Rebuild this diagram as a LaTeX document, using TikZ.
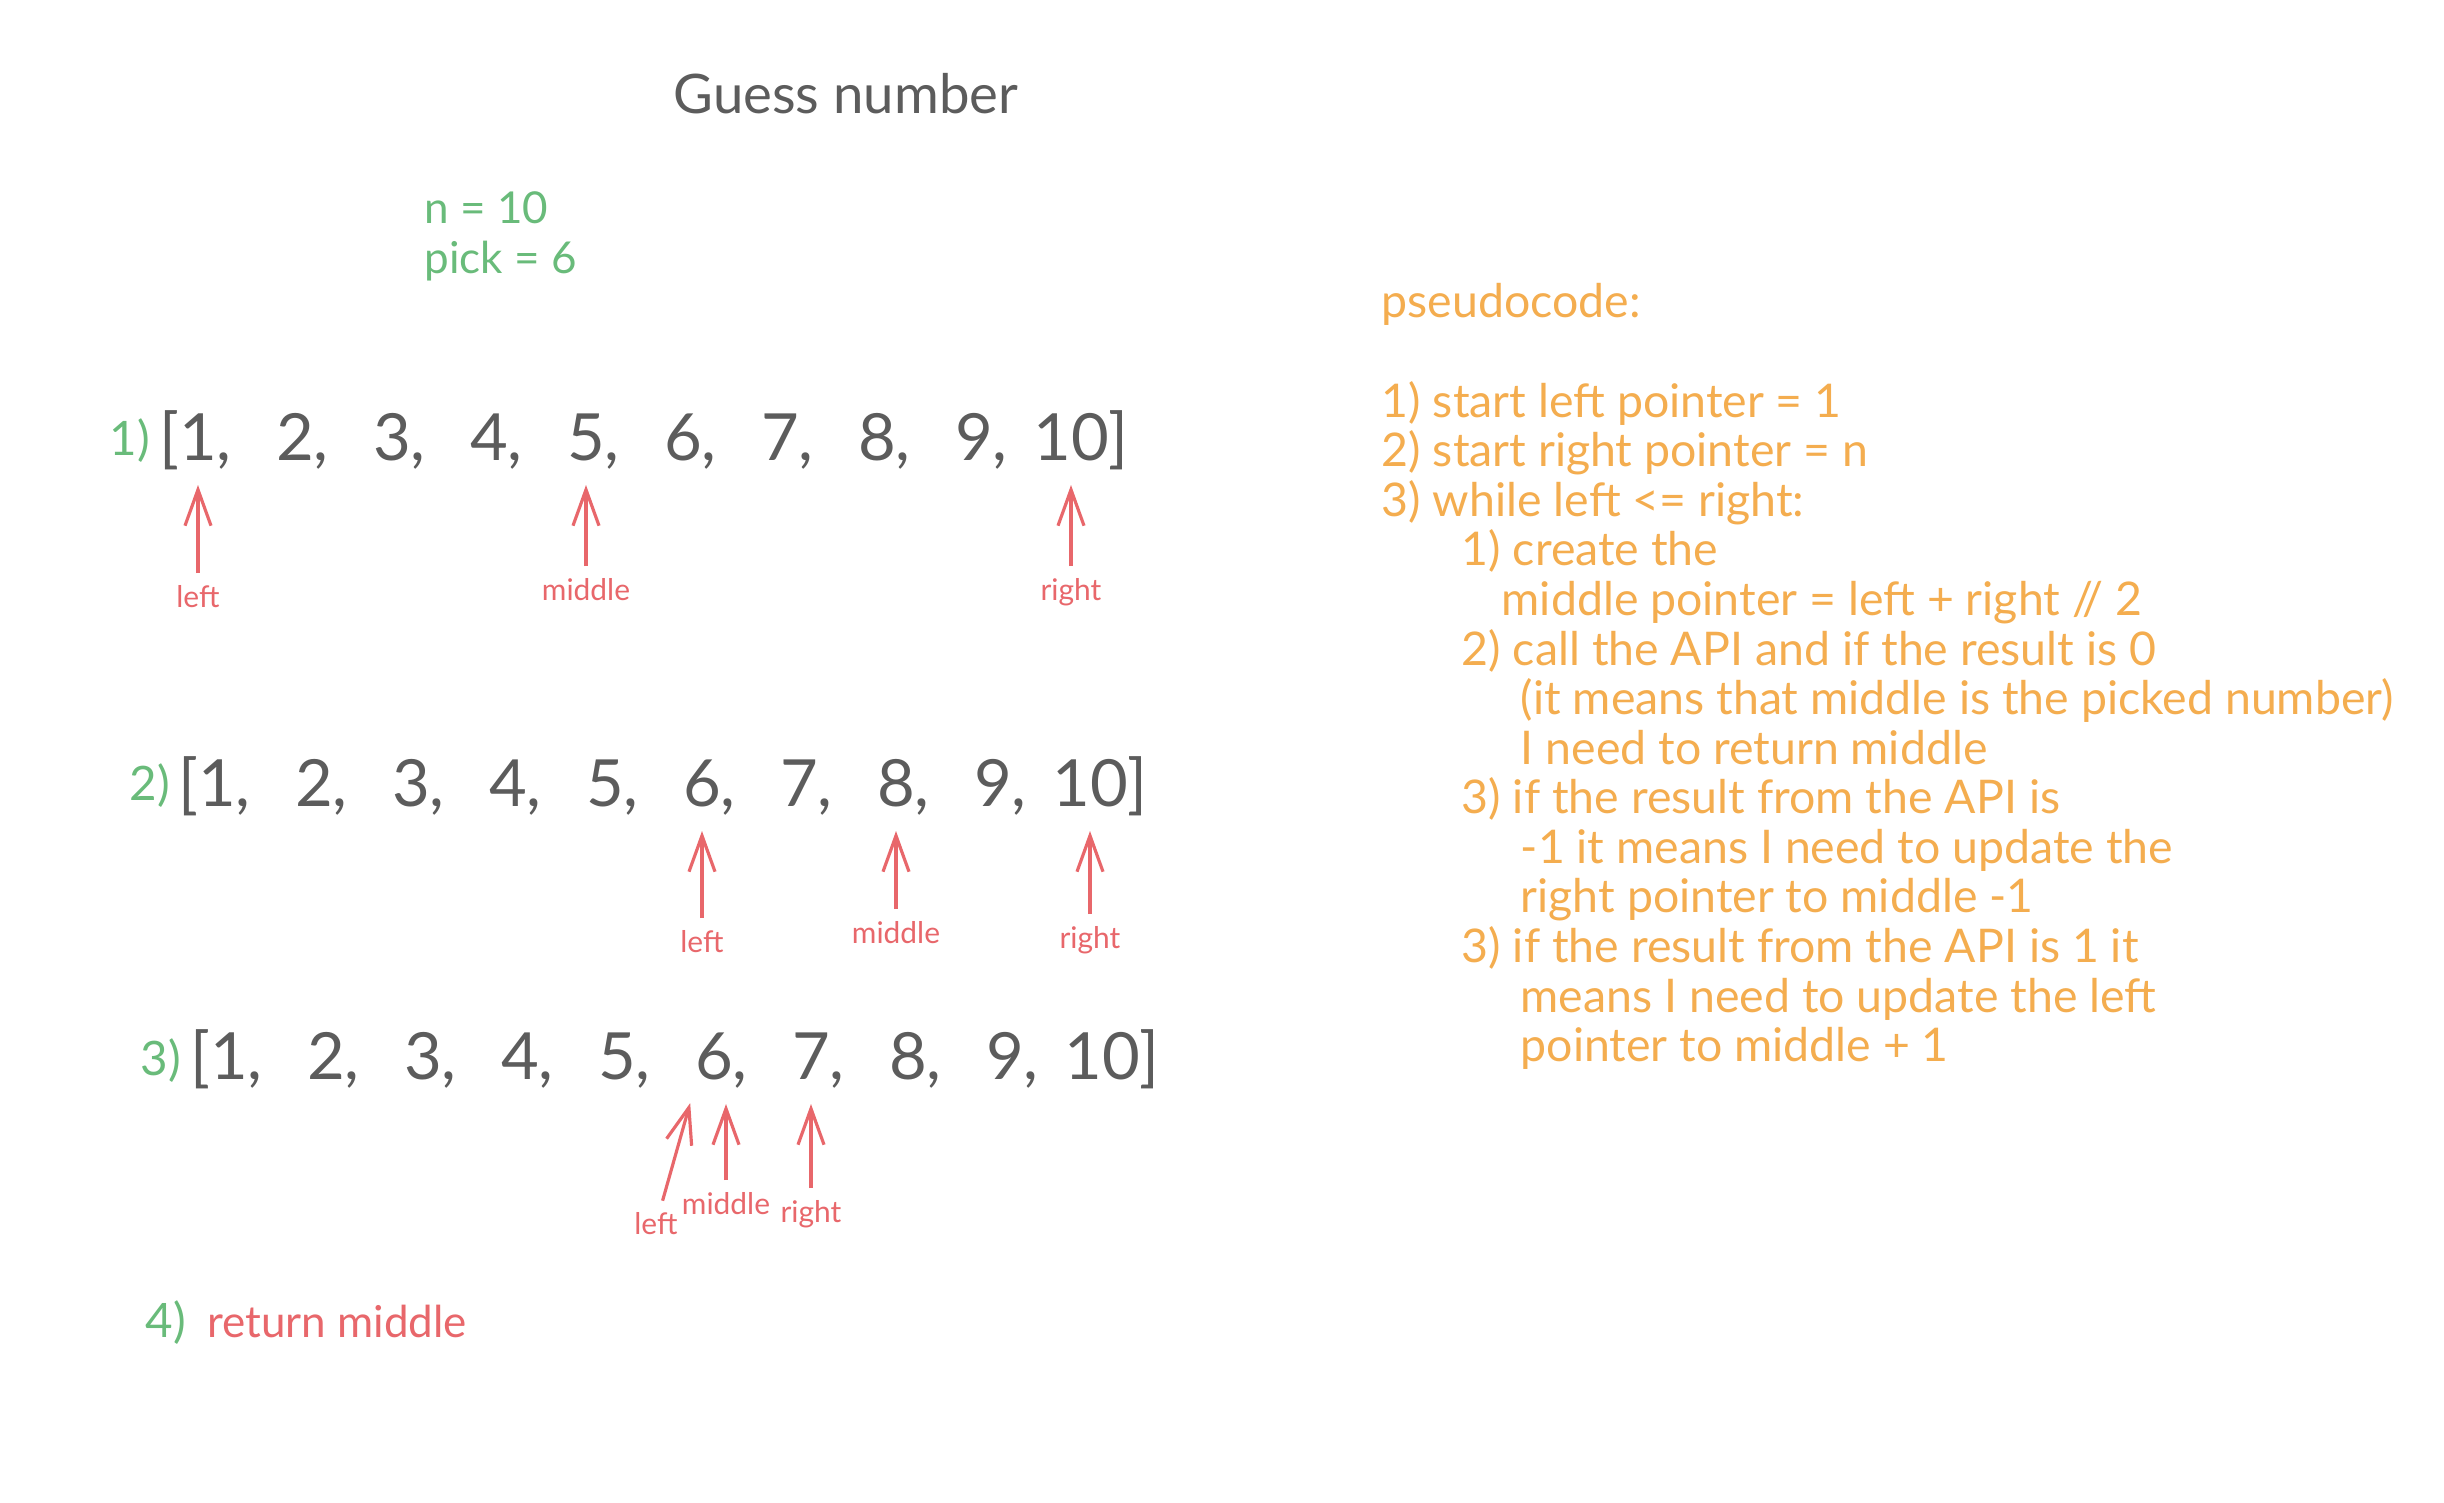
\documentclass[tikz,border=0pt]{standalone}
\usepackage{fontspec}
\setmainfont{Lato}
\usepackage{xcolor}
\usepackage{tikz}
\usetikzlibrary{arrows.meta,positioning}
\definecolor{inkgray}{HTML}{5C5C5C}
\definecolor{inkgreen}{HTML}{69BB7A}
\definecolor{inkred}{HTML}{E8676B}
\definecolor{inkorange}{HTML}{F4AD4F}
\tikzstyle{every node}=[inner sep=0pt,text=inkgray]
\tikzstyle{digit}=[anchor=base,font=\fontsize{18.5}{22}\selectfont]
\tikzstyle{rowno}=[anchor=base west,text=inkgreen,font=\fontsize{13.5}{16}\selectfont]
\tikzstyle{ptrname}=[text=inkred,font=\fontsize{8.5}{10}\selectfont]
\tikzstyle{ptr}=[draw=inkred,line width=0.9pt,shorten <=0.12cm,shorten >=0.25cm,-{Straight Barb[length=3.6mm,width=2.6mm]}]

% one row of the list: name, x of first digit, baseline
\newcommand{\numrow}[3]{%
  \foreach \i in {1,...,10}
    \node[digit] (#1-\i) at ({#2+(\i-1)*97},#3)
      {\ifnum\i=1 \llap{[}\fi\i\ifnum\i<10 \rlap{,}\else\rlap{]}\fi};
}

\begin{document}
\begin{tikzpicture}[x=0.01cm,y=-0.01cm]
	\fill[white] (0,0) rectangle (2444,1502);
	\useasboundingbox (0,0) rectangle (2444,1502);

	\node[anchor=west,font=\fontsize{15.5}{19}\selectfont] (title) at (673,94) {Guess number};
	\node[anchor=base west,text=inkgreen,font=\fontsize{12.5}{15}\selectfont] (n) at (424,223) {n = 10};
	\node[anchor=base west,text=inkgreen,font=\fontsize{12.5}{15}\selectfont] (pick) at (424,273) {pick = 6};

	% step 1
	\node[rowno] (a0) at (109,455) {1)};
	\numrow{a}{198}{460}
	\node[ptrname,below=1.25cm of a-1.base] (aL) {left};
	\node[ptrname,below=1.18cm of a-5.base] (aM) {middle};
	\node[ptrname,below=1.18cm of a-10.base] (aR) {right};
	\draw[ptr] (aL) -- (aL |- a-1.base);
	\draw[ptr] (aM) -- (aM |- a-5.base);
	\draw[ptr] (aR) -- (aR |- a-10.base);

	% step 2
	\node[rowno] (b0) at (129,800) {2)};
	\numrow{b}{217}{806}
	\node[ptrname,below=1.24cm of b-6.base] (bL) {left};
	\node[ptrname,below=1.15cm of b-8.base] (bM) {middle};
	\node[ptrname,below=1.2cm of b-10.base] (bR) {right};
	\draw[ptr] (bL) -- (bL |- b-6.base);
	\draw[ptr] (bM) -- (bM |- b-8.base);
	\draw[ptr] (bR) -- (bR |- b-10.base);

	% step 3
	\node[rowno] (c0) at (140,1075) {3)};
	\numrow{c}{229}{1079}
	\node[ptrname] (cL) at ([xshift=-0.58cm,yshift=-1.45cm]c-6.base) {left};
	\node[ptrname,below=1.13cm of c-6.base,xshift=0.12cm] (cM) {middle};
	\node[ptrname,below=1.21cm of c-7.base] (cR) {right};
	\draw[ptr] (cL) -- ([xshift=-0.17cm]c-6.base);
	\draw[ptr] (cM) -- (cM |- c-6.base);
	\draw[ptr] (cR) -- (cR |- c-7.base);

	% step 4
	\node[rowno] (d0) at (145,1337) {4)};
	\node[anchor=base west,text=inkred,font=\fontsize{12.5}{15}\selectfont] (ret) at ([xshift=0.2cm]d0.base east) {return middle};

	\node[anchor=north west,align=left,text=inkorange,font=\fontsize{13.2}{14.1}\selectfont] (code) at (1381,283) {pseudocode:\\[14.1pt]
		1) start left pointer = 1\\
		2) start right pointer = n\\
		3) while left <= right:\\
		\hspace*{0.8cm}1) create the\\
		\hspace*{1.2cm}middle pointer = left + right // 2\\
		\hspace*{0.8cm}2) call the API and if the result is 0\\
		\hspace*{1.39cm}(it means that middle is the picked number)\\
		\hspace*{1.39cm}I need to return middle\\
		\hspace*{0.8cm}3) if the result from the API is\\
		\hspace*{1.39cm}-1 it means I need to update the\\
		\hspace*{1.39cm}right pointer to middle -1\\
		\hspace*{0.8cm}3) if the result from the API is 1 it\\
		\hspace*{1.39cm}means I need to update the left\\
		\hspace*{1.39cm}pointer to middle + 1};
\end{tikzpicture}
\end{document}
